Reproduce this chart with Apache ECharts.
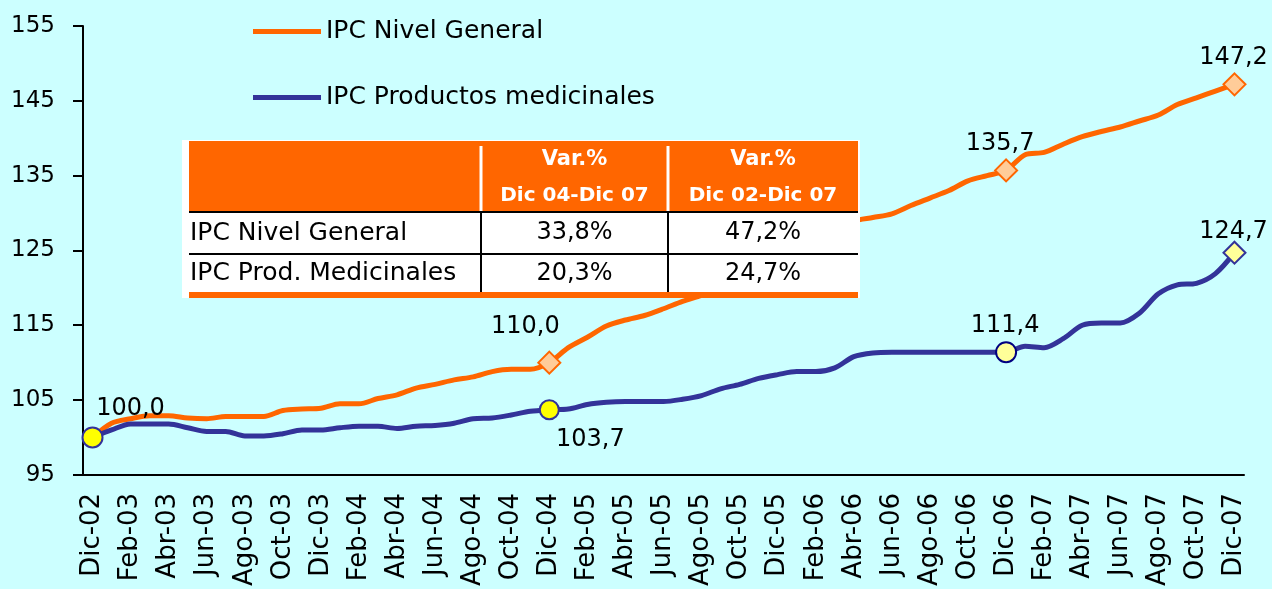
<!DOCTYPE html>
<html><head><meta charset="utf-8">
<script src="https://cdn.jsdelivr.net/npm/echarts@6/dist/echarts.min.js"></script>
<style>html,body{margin:0;padding:0;background:#CCFFFF;}#c{width:1272px;height:589px;}</style>
</head><body><div id="c"></div>
<script>
const categories = [
 'Dic-02','Ene-03','Feb-03','Mar-03','Abr-03','May-03','Jun-03','Jul-03','Ago-03','Sep-03','Oct-03','Nov-03',
 'Dic-03','Ene-04','Feb-04','Mar-04','Abr-04','May-04','Jun-04','Jul-04','Ago-04','Sep-04','Oct-04','Nov-04',
 'Dic-04','Ene-05','Feb-05','Mar-05','Abr-05','May-05','Jun-05','Jul-05','Ago-05','Sep-05','Oct-05','Nov-05',
 'Dic-05','Ene-06','Feb-06','Mar-06','Abr-06','May-06','Jun-06','Jul-06','Ago-06','Sep-06','Oct-06','Nov-06',
 'Dic-06','Ene-07','Feb-07','Mar-07','Abr-07','May-07','Jun-07','Jul-07','Ago-07','Sep-07','Oct-07','Nov-07',
 'Dic-07'];
const ipcGeneral = [
 100.0,101.9,102.5,102.9,102.9,102.6,102.5,102.8,102.8,102.8,103.6,103.8,
 103.9,104.5,104.5,105.2,105.7,106.6,107.1,107.7,108.1,108.8,109.1,109.1,
 110.0,112.0,113.4,114.9,115.7,116.3,117.2,118.2,119.0,120.0,121.0,122.3,
 123.6,125.0,125.6,127.2,128.9,129.4,129.9,131.0,132.0,133.0,134.3,135.0,
 135.7,137.8,138.1,139.2,140.2,140.9,141.5,142.3,143.1,144.5,145.4,146.3,
 147.2];
const ipcMedicinales = [
 100.0,101.0,101.8,101.8,101.8,101.3,100.8,100.8,100.2,100.2,100.5,101.0,
 101.0,101.3,101.5,101.5,101.2,101.5,101.6,101.9,102.5,102.6,103.0,103.5,
 103.7,103.8,104.4,104.7,104.8,104.8,104.8,105.1,105.6,106.5,107.1,107.9,
 108.4,108.8,108.8,109.3,110.8,111.3,111.4,111.4,111.4,111.4,111.4,111.4,
 111.4,112.2,112.0,113.2,115.0,115.3,115.3,116.6,119.2,120.4,120.6,121.9,
 124.7];
const seriesNames = ['IPC Nivel General','IPC Productos medicinales'];
const yMin = 95, yMax = 155, yInterval = 10;
const tableHeaderTop = ['Var.%','Var.%'];
const tableHeaderBottom = ['Dic 04-Dic 07','Dic 02-Dic 07'];
const tableRowNames = ['IPC Nivel General','IPC Prod. Medicinales'];
const tableValues = [['33,8%','47,2%'],['20,3%','24,7%']];

const FONT = 'DejaVu Sans';
const ORANGE = '#FF6600', BLUE = '#333399';

// marker styling (indices into the series)
const orangeMarks = {
  24: {off: [-24, -36]},
  48: {off: [-6, -27]},
  60: {off: [-1, -27]}
};
const blueMarks = {
  0: {symbol: 'circle', size: 20, fill: '#FFFF00', border: BLUE, off: [38, -29]},
  24: {symbol: 'circle', size: 19, fill: '#FFFF00', border: BLUE, off: [41, 30]},
  48: {symbol: 'circle', size: 20, fill: '#FFFF99', border: '#000080', off: [-1, -26]},
  60: {symbol: 'diamond', size: 22, fill: '#FFFF99', border: BLUE, off: [-1, -21]}
};
const fmt = v => v.toFixed(1).replace('.', ',');
const labelBase = {show: true, position: 'inside', fontFamily: FONT, fontSize: 24, color: '#000',
  formatter: p => fmt(p.value)};

const orangeData = ipcGeneral.map((v, i) => {
  const m = orangeMarks[i];
  if (!m) return {value: v, symbol: 'none'};
  return {value: v, symbol: 'diamond', symbolSize: 22,
    itemStyle: {color: '#FFCC99', borderColor: ORANGE, borderWidth: 2},
    label: Object.assign({}, labelBase, {offset: m.off})};
});
const blueData = ipcMedicinales.map((v, i) => {
  const m = blueMarks[i];
  if (!m) return {value: v, symbol: 'none'};
  return {value: v, symbol: m.symbol, symbolSize: m.size,
    itemStyle: {color: m.fill, borderColor: m.border, borderWidth: 2},
    label: Object.assign({}, labelBase, {offset: m.off})};
});

// table graphic
const T = {x: 182, y: 140, w: 678, right: 858, left: 189, hdrBottom: 212, row1Bottom: 254, bottom: 293,
  col1: 481, col2: 668};
const ZT = 100;
const tg = [];
tg.push({type: 'rect', z: ZT, shape: {x: T.x, y: T.y, width: T.w, height: 158}, style: {fill: '#FFFFFF'}});
tg.push({type: 'rect', z: ZT + 1, shape: {x: T.left, y: T.y + 1, width: T.right - T.left, height: T.hdrBottom - T.y - 1}, style: {fill: ORANGE}});
[T.col1, T.col2].forEach(cx => {
  tg.push({type: 'line', z: ZT + 2, shape: {x1: cx, y1: T.y + 6, x2: cx, y2: T.hdrBottom}, style: {stroke: '#FFFFFF', lineWidth: 3}});
  tg.push({type: 'line', z: ZT + 2, shape: {x1: cx, y1: T.hdrBottom, x2: cx, y2: T.bottom}, style: {stroke: '#000000', lineWidth: 2}});
});
[T.hdrBottom, T.row1Bottom].forEach(yy => {
  tg.push({type: 'line', z: ZT + 2, shape: {x1: T.left, y1: yy, x2: T.right, y2: yy}, style: {stroke: '#000000', lineWidth: 2}});
});
tg.push({type: 'rect', z: ZT + 2, shape: {x: T.left, y: T.bottom - 1, width: T.right - T.left, height: 6}, style: {fill: ORANGE}});
const colCenters = [(T.col1 + T.col2) / 2, (T.col2 + T.right) / 2];
colCenters.forEach((cx, k) => {
  tg.push({type: 'text', z: ZT + 3, x: cx, y: 160, style: {text: tableHeaderTop[k], fill: '#FFFFFF', font: 'bold 21px "DejaVu Sans"', align: 'center', verticalAlign: 'middle'}});
  tg.push({type: 'text', z: ZT + 3, x: cx, y: 196, style: {text: tableHeaderBottom[k], fill: '#FFFFFF', font: 'bold 20px "DejaVu Sans"', align: 'center', verticalAlign: 'middle'}});
});
const rowCenters = [(T.hdrBottom + T.row1Bottom) / 2, (T.row1Bottom + T.bottom) / 2];
rowCenters.forEach((cy, r) => {
  tg.push({type: 'text', z: ZT + 3, x: 190, y: cy, style: {text: tableRowNames[r], fill: '#000', font: '25px "DejaVu Sans"', align: 'left', verticalAlign: 'middle'}});
  colCenters.forEach((cx, k) => {
    tg.push({type: 'text', z: ZT + 3, x: cx, y: cy, style: {text: tableValues[r][k], fill: '#000', font: '24px "DejaVu Sans"', align: 'center', verticalAlign: 'middle'}});
  });
});

const chart = echarts.init(document.getElementById('c'), null, {renderer: 'canvas'});
chart.setOption({
  animation: false,
  backgroundColor: '#CCFFFF',
  textStyle: {fontFamily: FONT},
  grid: {left: 83, right: 28, top: 26, bottom: 112, containLabel: false},
  legend: {
    orient: 'vertical', left: 248, top: 14, itemWidth: 68, itemHeight: 5, itemGap: 41, icon: 'rect',
    textStyle: {fontFamily: FONT, fontSize: 25, color: '#000'},
    data: seriesNames
  },
  xAxis: {
    type: 'category', data: categories, boundaryGap: true,
    axisLine: {lineStyle: {color: '#000', width: 2}},
    axisTick: {interval: 1, length: 10, lineStyle: {color: '#000', width: 2}},
    axisLabel: {interval: 1, rotate: 90, margin: 18, fontFamily: FONT, fontSize: 26, color: '#000', padding: [24, 0, 0, 0]},
    splitLine: {show: false}
  },
  yAxis: {
    type: 'value', min: yMin, max: yMax, interval: yInterval,
    axisLine: {show: true, lineStyle: {color: '#000', width: 2}},
    axisTick: {show: true, length: 10, lineStyle: {color: '#000', width: 2}},
    axisLabel: {margin: 28, fontFamily: FONT, fontSize: 23, color: '#000'},
    splitLine: {show: false}
  },
  series: [
    {name: seriesNames[0], type: 'line', data: orangeData, smooth: 0.3, showAllSymbol: true, symbol: 'none',
     lineStyle: {color: ORANGE, width: 5}, itemStyle: {color: ORANGE}, z: 2},
    {name: seriesNames[1], type: 'line', data: blueData, smooth: 0.3, showAllSymbol: true, symbol: 'none',
     lineStyle: {color: BLUE, width: 5}, itemStyle: {color: BLUE}, z: 3}
  ],
  graphic: [{type: 'group', z: ZT, children: tg}]
});
</script></body></html>
